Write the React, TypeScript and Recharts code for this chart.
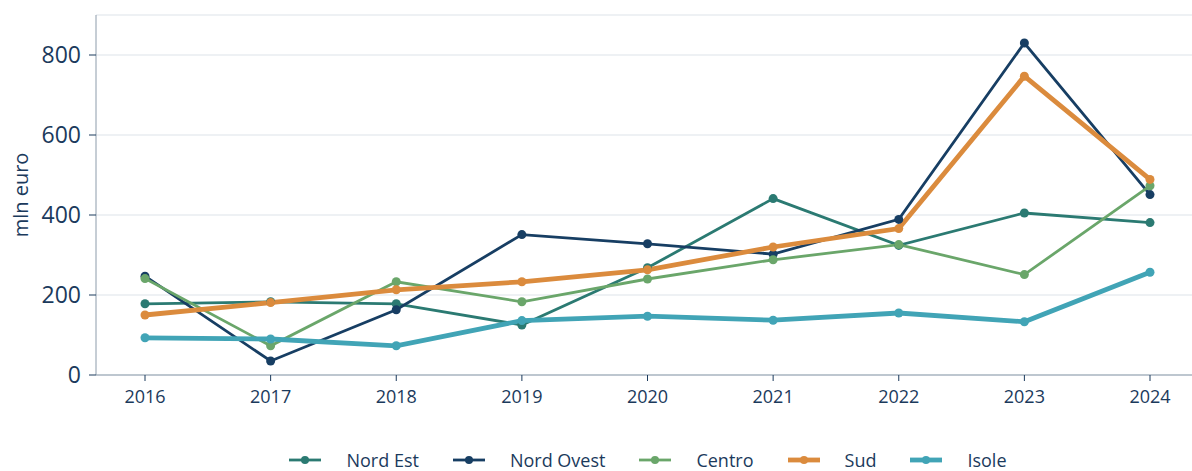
import { LineChart, Line, XAxis, YAxis, CartesianGrid, Legend } from "recharts";

const years = ["2016", "2017", "2018", "2019", "2020", "2021", "2022", "2023", "2024"];
const nordEst = [178, 183, 178, 125, 268, 441, 324, 405, 381];
const nordOvest = [247, 35, 163, 351, 328, 302, 389, 830, 451];
const centro = [241, 73, 233, 183, 240, 288, 326, 251, 473];
const sud = [150, 181, 213, 233, 263, 320, 366, 747, 489];
const isole = [93, 90, 73, 136, 147, 137, 155, 133, 257];
const yTicks = [0, 200, 400, 600, 800];

const series = [
  { key: "nordEst", name: "Nord Est", color: "#2b7a72", width: 2.8 },
  { key: "nordOvest", name: "Nord Ovest", color: "#173e63", width: 2.8 },
  { key: "centro", name: "Centro", color: "#6aa66a", width: 2.8 },
  { key: "sud", name: "Sud", color: "#db8b3d", width: 4.8 },
  { key: "isole", name: "Isole", color: "#41a4b6", width: 4.8 },
];

const data = years.map((year, i) => ({
  year,
  nordEst: nordEst[i],
  nordOvest: nordOvest[i],
  centro: centro[i],
  sud: sud[i],
  isole: isole[i],
}));

const FONT = "'Open Sans', sans-serif";
const TEXT = "#1b3a5c";
const AXIS = "#8d9cab";

function LegendContent() {
  return (
    <div
      style={{
        display: "flex",
        justifyContent: "center",
        alignItems: "center",
        gap: 34,
        paddingTop: 20,
        paddingLeft: 8,
        fontFamily: FONT,
        fontSize: 18,
        lineHeight: "18px",
        color: TEXT,
      }}
    >
      {series.map((s) => (
        <div key={s.key} style={{ display: "flex", alignItems: "center", gap: 25, height: 18 }}>
          <svg width={32} height={12}>
            <line x1={0} y1={6} x2={32} y2={6} stroke={s.color} strokeWidth={s.width} />
            <circle cx={16} cy={6} r={4} fill={s.color} />
          </svg>
          <span>{s.name}</span>
        </div>
      ))}
    </div>
  );
}

export default function App() {
  return (
    <div style={{ position: "absolute", left: 0, top: 0, background: "#fff" }}>
      <LineChart width={1192} height={471} data={data} margin={{ top: 15, right: 0, left: 0, bottom: 0 }}>
        <CartesianGrid vertical={false} stroke="#dde3e9" strokeWidth={1.2} />
        <XAxis
          dataKey="year"
          padding={{ left: 49, right: 42 }}
          height={56}
          stroke={AXIS}
          tickSize={6}
          tickMargin={9}
          tick={{ fill: TEXT, fontSize: 18, fontFamily: FONT }}
          tickLine={{ stroke: TEXT }}
        />
        <YAxis
          width={96}
          domain={[0, 900]}
          ticks={yTicks}
          stroke={AXIS}
          tickSize={7}
          tickMargin={8}
          tick={{ fill: TEXT, fontSize: 23, fontFamily: FONT }}
          tickLine={{ stroke: TEXT }}
          label={{
            content: () => (
              <text
                transform="translate(28,195) rotate(-90)"
                textAnchor="middle"
                fill={TEXT}
                fontSize={20}
                fontFamily={FONT}
              >
                mln euro
              </text>
            ),
          }}
        />
        <Legend
          verticalAlign="bottom"
          height={40}
          wrapperStyle={{ left: 96, width: 1096 }}
          content={<LegendContent />}
        />
        {series.map((s) => (
          <Line
            key={s.key}
            dataKey={s.key}
            name={s.name}
            stroke={s.color}
            strokeWidth={s.width}
            dot={{ r: 4.5, fill: s.color, stroke: s.color, strokeWidth: 0 }}
            activeDot={false}
            isAnimationActive={false}
          />
        ))}
      </LineChart>
    </div>
  );
}
